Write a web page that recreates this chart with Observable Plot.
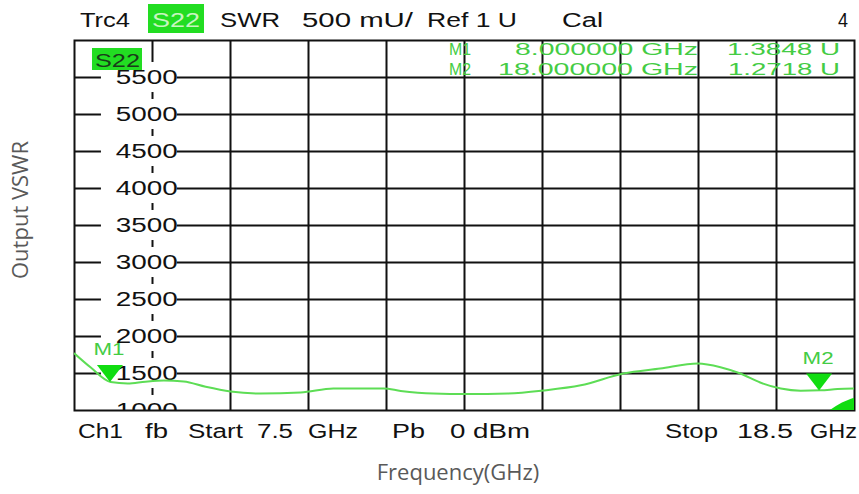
<!DOCTYPE html>
<html><head><meta charset="utf-8">
<script src="https://cdn.jsdelivr.net/npm/d3@7"></script>
<script src="https://cdn.jsdelivr.net/npm/@observablehq/plot@0.6"></script>
<style>
html,body{margin:0;padding:0;background:#fff;}
#chart{position:relative;width:859px;height:494px;}
</style></head><body><div id="chart"></div>
<script>
// ---- data ----
const freqGHz = [7.50, 7.73, 8.01, 8.25, 8.50, 8.76, 9.04, 9.35, 9.70, 10.12, 10.69, 11.15, 11.86, 12.10, 12.56, 13.03, 13.61, 14.11, 14.64, 15.24, 15.76, 16.29, 16.61, 16.89, 17.17, 17.46, 17.74, 18.02, 18.26, 18.50];
const swrMU   = [1770, 1580, 1385, 1365, 1390, 1405, 1392, 1320, 1257, 1230, 1243, 1297, 1297, 1265, 1230, 1223, 1230, 1270, 1340, 1500, 1568, 1635, 1585, 1500, 1378, 1297, 1268, 1272, 1290, 1297];
const yTickLabels = [1000, 1500, 2000, 2500, 3000, 3500, 4000, 4500, 5000, 5500];
const yGridValues = [1500, 2000, 2500, 3000, 3500, 4000, 4500, 5000, 5500];
const xGridValues = [8.6, 9.7, 10.8, 11.9, 13.0, 14.1, 15.2, 16.3, 17.4];
const markerNames = ["M1", "M2"];
const markerFreq = [8.0, 18.0];
const markerSWR = [1384.8, 1271.8];
const edgeFreq = [18.16, 18.33, 18.5];
const edgeSWR = [1000, 1100, 1165];

const trace = freqGHz.map((f, i) => ({f, v: swrMU[i]}));
const markers = markerNames.map((n, i) => ({n, f: markerFreq[i], v: markerSWR[i]}));
const edge = edgeFreq.map((f, i) => ({f, v: edgeSWR[i]}));

const VNA = "Liberation Sans, Arial, sans-serif";
const downTri = {draw(ctx) { ctx.moveTo(0, 0); ctx.lineTo(-13, -17); ctx.lineTo(13, -17); ctx.closePath(); }};

const svg = Plot.plot({
  width: 859, height: 494,
  marginLeft: 74, marginRight: 5, marginTop: 40, marginBottom: 84,
  x: {domain: [7.5, 18.5], axis: null},
  y: {domain: [1000, 6000], axis: null},
  style: {background: "#fff", fontFamily: VNA},
  marks: [
    Plot.ruleX(xGridValues, {stroke: "#111", strokeWidth: 2}),
    Plot.ruleY(yGridValues, {stroke: "#111", strokeWidth: 2}),
    Plot.rect(yTickLabels, {x1: () => 7.88, x2: () => 8.95, y1: d => d - 203, y2: d => d + 203, fill: "#fff", clip: true}),
    Plot.text(yTickLabels, {x: () => 8.52, y: d => d, text: d => String(d), fill: "#111", fontSize: 20, clip: true}),
    Plot.frame({stroke: "#111", strokeWidth: 2}),
    Plot.line(trace, {x: "f", y: "v", stroke: "#5ddd55", strokeWidth: 2, curve: "monotone-x", clip: true}),
    Plot.areaY(edge, {x: "f", y1: () => 1000, y2: "v", fill: "#11dd11", curve: "monotone-x"}),
    Plot.dot(markers, {x: "f", y: "v", symbol: downTri, fill: "#11dd11", stroke: "none"}),
    Plot.text(markers, {x: "f", y: "v", text: "n", fill: "#44cc44", fontSize: 17, dy: -32, dx: -1})
  ]
});
document.getElementById("chart").appendChild(svg);
const s = d3.select(svg);

// stretch the VNA bitmap-like font horizontally
s.selectAll("text").each(function() {
  const t = this.textContent;
  if (/^\d{4}$/.test(t)) d3.select(this).attr("textLength", 62).attr("lengthAdjust", "spacingAndGlyphs");
  else if (/^M\d$/.test(t)) d3.select(this).attr("textLength", 31).attr("lengthAdjust", "spacingAndGlyphs");
});

function label(txt, x, y, w, opts = {}) {
  const t = s.append("text").attr("x", x).attr("y", y)
    .attr("font-family", opts.font || VNA).attr("font-size", opts.size || 20)
    .attr("text-anchor", opts.anchor || "start")
    .attr("fill", opts.fill || "#111").text(txt);
  if (w) t.attr("textLength", w).attr("lengthAdjust", "spacingAndGlyphs");
  if (opts.rotate) t.attr("transform", opts.rotate);
  return t;
}
// header
label("Trc4", 80, 27, 50);
s.append("rect").attr("x", 148).attr("y", 4).attr("width", 56).attr("height", 29).attr("fill", "#22dd22");
label("S22", 152, 27, 48, {fill: "#c8f5c0"});
label("SWR", 220, 27, 60);
label("500 mU/", 302, 27, 111);
label("Ref 1 U", 427, 27, 90);
label("Cal", 562, 27, 41);
label("4", 838, 27, 10);
// in-plot trace tag
s.append("rect").attr("x", 92).attr("y", 48).attr("width", 50).attr("height", 22).attr("fill", "#22dd22");
label("S22", 95, 67, 45, {fill: "#1a3a1a", size: 18});
// marker readout
const G = "#44cc44";
label("M1", 449, 55, 22, {fill: G, size: 17});
label("8.000000 GHz", 515, 55, 183, {fill: G, size: 17});
label("1.3848 U", 727, 55, 113, {fill: G, size: 17});
label("M2", 449, 75, 22, {fill: G, size: 17});
label("18.000000 GHz", 498, 75, 200, {fill: G, size: 17});
label("1.2718 U", 728, 75, 112, {fill: G, size: 17});
// footer
label("Ch1", 78, 438, 45);
label("fb", 145, 438, 23);
label("Start", 188, 438, 55);
label("7.5", 257, 438, 36);
label("GHz", 308, 438, 50);
label("Pb", 392, 438, 33);
label("0 dBm", 450, 438, 80);
label("Stop", 665, 438, 53);
label("18.5", 737, 438, 56);
label("GHz", 810, 438, 47);
// axis titles
label("Frequency(GHz)", 458, 480, null, {font: "Open Sans, sans-serif", size: 22, fill: "#595959", anchor: "middle"});
label("Output VSWR", 0, 0, null, {font: "Open Sans, sans-serif", size: 22, fill: "#595959", anchor: "middle", rotate: "translate(28,210) rotate(-90)"});
</script></body></html>
